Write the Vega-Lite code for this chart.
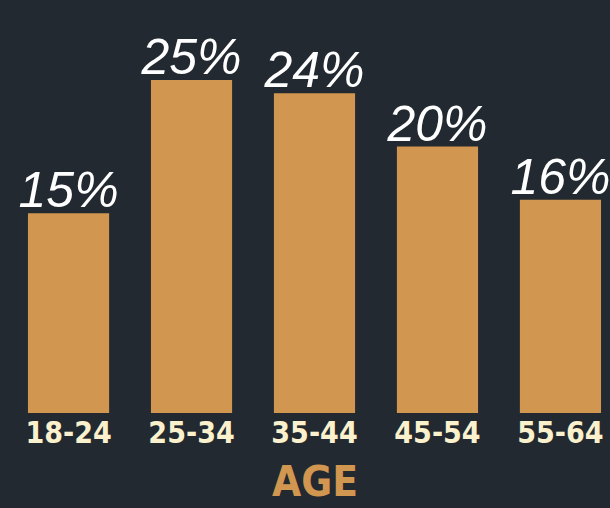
{
  "$schema": "https://vega.github.io/schema/vega-lite/v6.json",
  "autosize": "none",
  "width": 593,
  "height": 413,
  "padding": {"left": 18, "top": 0, "right": 0, "bottom": 95},
  "background": "#222931",
  "config": {"view": {"stroke": null}},
  "data": {"values": [
    {"age": "18-24", "pct": 15, "label": "15%"},
    {"age": "25-34", "pct": 25, "label": "25%"},
    {"age": "35-44", "pct": 24, "label": "24%"},
    {"age": "45-54", "pct": 20, "label": "20%"},
    {"age": "55-64", "pct": 16, "label": "16%"}
  ]},
  "encoding": {
    "x": {
      "field": "age", "type": "nominal", "sort": null,
      "scale": {"paddingInner": 0.34, "paddingOuter": 0.081},
      "axis": {
        "title": "AGE", "labelAngle": 0, "domain": false, "ticks": false, "grid": false,
        "labelFont": "DejaVu Sans Condensed", "labelFontSize": 30, "labelFontWeight": "bold", "labelColor": "#fcf1cd",
        "labelPadding": 5,
        "titleFont": "DejaVu Sans Condensed", "titleFontSize": 42, "titleFontWeight": "bold",
        "titleColor": "#d1964f", "titlePadding": 14
      }
    },
    "y": {
      "field": "pct", "type": "quantitative",
      "scale": {"domain": [0, 31]},
      "axis": null
    }
  },
  "layer": [
    {"mark": {"type": "bar", "color": "#d1964f"}},
    {"mark": {"type": "text", "baseline": "alphabetic", "dy": -6, "color": "#ffffff", "font": "Liberation Sans", "fontStyle": "italic", "fontSize": 50},
     "encoding": {"text": {"field": "label"}}}
  ]
}
